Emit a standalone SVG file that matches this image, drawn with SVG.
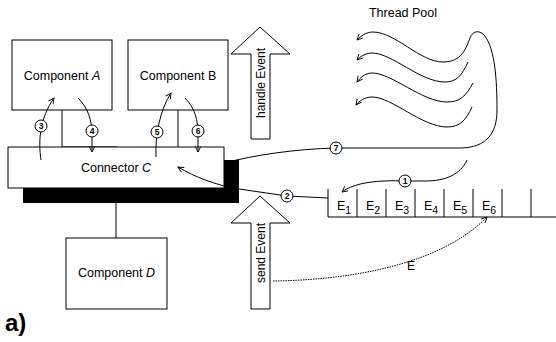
<svg xmlns="http://www.w3.org/2000/svg" width="556" height="342" viewBox="0 0 556 342">
<defs>
<marker id="v" viewBox="0 0 10 10" refX="9" refY="5" markerWidth="7" markerHeight="7" markerUnits="userSpaceOnUse" orient="auto">
<path d="M1,1 L9,5 L1,9" fill="none" stroke="#000" stroke-width="1.3"/>
</marker>
<style>
.box{fill:#fff;stroke:#000;stroke-width:1}
.ln{fill:none;stroke:#000;stroke-width:1}
.arr{fill:none;stroke:#000;stroke-width:1;marker-end:url(#v)}
.c{fill:#fff;stroke:#000;stroke-width:1}
text{font-family:"Liberation Sans",Arial,sans-serif;fill:#000}
.n{font-weight:bold;text-anchor:middle}
</style>
</defs>
<rect width="556" height="342" fill="#fff"/>

<g id="compA"><rect class="box" x="12" y="40" width="100" height="70"/><text x="62" y="80" font-family="Liberation Sans, Arial, sans-serif" font-size="12.5" text-anchor="middle">Component <tspan font-style="italic">A</tspan></text></g>
<g id="compB"><rect class="box" x="128" y="40" width="100" height="70"/><text x="178" y="80" font-family="Liberation Sans, Arial, sans-serif" font-size="12.5" text-anchor="middle">Component B</text></g>
<g id="links">
<path class="ln" d="M62,110 V147 H117 M178,110 V147 M116,203 V238"/>
</g>
<g id="connectorC">
<rect x="23" y="160" width="216" height="43" fill="#000"/>
<rect class="box" x="8" y="147" width="216" height="41"/>
<text x="116" y="172" font-family="Liberation Sans, Arial, sans-serif" font-size="12.5" text-anchor="middle">Connector <tspan font-style="italic">C</tspan></text>
</g>
<g id="compD"><rect class="box" x="66" y="238" width="101" height="71"/><text x="116.5" y="277" font-family="Liberation Sans, Arial, sans-serif" font-size="12.5" text-anchor="middle">Component <tspan font-style="italic">D</tspan></text></g>

<g id="handleEvent"><polygon class="box" points="260,27 290,54 270,54 270,139 251,139 251,54 231,54"/><text font-family="Liberation Sans, Arial, sans-serif" font-size="12" transform="translate(265,83) rotate(-90)" text-anchor="middle">handle Event</text></g>
<g id="sendEvent"><polygon class="box" points="260,196 290,223 270,223 270,309 251,309 251,223 231,223"/><text font-family="Liberation Sans, Arial, sans-serif" font-size="12" transform="translate(265,253) rotate(-90)" text-anchor="middle">send Event</text></g>

<g id="queue" font-family="Liberation Sans, Arial, sans-serif" font-size="12.5">
<path class="ln" d="M328,217 H556 M328,189 V217 M357,189 V217 M386,189 V217 M415,189 V217 M444,189 V217 M473,189 V217 M502,189 V217 M531,189 V217"/>
<text x="337" y="210">E<tspan font-size="10.5" dy="4">1</tspan></text>
<text x="366" y="210">E<tspan font-size="10.5" dy="4">2</tspan></text>
<text x="395" y="210">E<tspan font-size="10.5" dy="4">3</tspan></text>
<text x="424" y="210">E<tspan font-size="10.5" dy="4">4</tspan></text>
<text x="453" y="210">E<tspan font-size="10.5" dy="4">5</tspan></text>
<text x="482" y="210">E<tspan font-size="10.5" dy="4">6</tspan></text>
</g>

<g id="threadPool">
<text x="403" y="17" font-family="Liberation Sans, Arial, sans-serif" font-size="12.5" text-anchor="middle">Thread Pool</text>
<path class="arr" d="M468,62 C462,75 457,82 445,82 C420,82 392,53 372,53 C365,53 360,57 357,60"/>
<path class="arr" d="M473,83 C466,96 460,102 447,102 C422,102 392,73 372,73 C365,73 360,78 357,82"/>
<path class="arr" d="M472,107 C466,120 460,127 447,127 C422,127 392,97 372,97 C365,97 359,101 356,105"/>
</g>

<g id="connectors">
<path class="arr" d="M224,163 C255,155 295,149 336,148 L462,148 C485,147 497,135 497,110 C497,80 495,50 485,36 C480,30 473,30 470,38 C466,48 462,62 443,62 C420,62 395,32 373,32 C366,32 361,36 357,40"/>
<path class="arr" d="M467,160 C460,175 445,181 425,181 L405,181 C380,180 355,182 342,192"/>
<path class="arr" d="M328,198 L287,196 L239,189 C215,185 195,177 178,167"/>
<path class="arr" d="M41,160 C38,140 40,118 54,98"/>
<path class="arr" d="M78,98 C88,108 92,120 92,135 L92,152"/>
<path class="arr" d="M156,157 C155,135 160,110 171,93"/>
<path class="arr" d="M185,98 C195,108 198,120 198,135 L198,152"/>
<path class="arr" d="M273,281 C350,280 440,265 487,217" stroke-dasharray="1.5,1"/>
<text x="411" y="270" font-family="Liberation Sans, Arial, sans-serif" font-size="12" text-anchor="middle">E</text>
<g font-family="Liberation Sans, Arial, sans-serif" font-size="8.5" font-weight="bold" text-anchor="middle">
<circle class="c" cx="41" cy="126" r="6"/><text x="41" y="129">3</text>
<circle class="c" cx="92" cy="131" r="6"/><text x="92" y="134">4</text>
<circle class="c" cx="157" cy="132" r="6"/><text x="157" y="135">5</text>
<circle class="c" cx="198" cy="131" r="6"/><text x="198" y="134">6</text>
<circle class="c" cx="336" cy="148" r="6"/><text x="336" y="151">7</text>
<circle class="c" cx="287" cy="196" r="6"/><text x="287" y="199">2</text>
<circle class="c" cx="405" cy="181" r="6"/><text x="405" y="184">1</text>
</g>
</g>

<text x="5" y="331" font-family="Liberation Sans, Arial, sans-serif" font-size="24" font-weight="bold">a)</text>
</svg>
